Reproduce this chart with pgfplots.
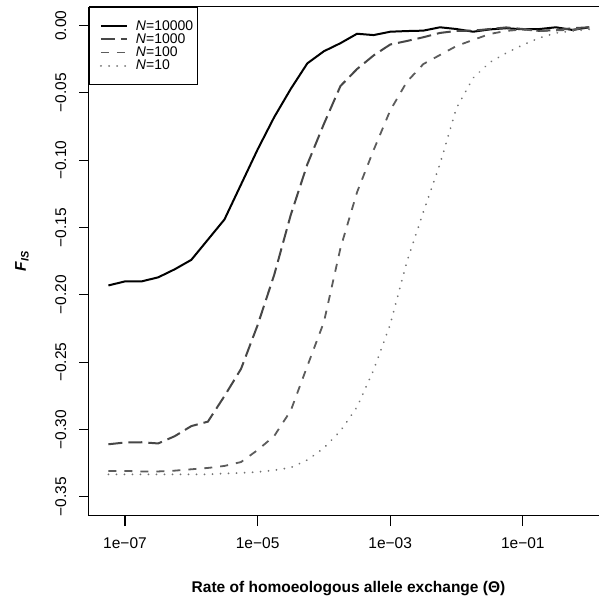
\documentclass[border=0pt]{standalone}
\usepackage{fontspec}
\setmainfont{Liberation Sans}
\usepackage{pgfplots}
\usepackage{pgfplotstable}
\pgfplotsset{compat=1.18}

\definecolor{cA}{gray}{0.0}
\definecolor{cB}{gray}{0.28}
\definecolor{cC}{gray}{0.36}
\definecolor{cD}{gray}{0.45}

% F_IS against theta, four population sizes
\pgfplotstableread{
x          n10000   n1000    n100     n10
5.623e-8   -0.193   -0.3110  -0.3308  -0.3334
1e-7       -0.190   -0.3097  -0.3308  -0.3334
1.778e-7   -0.190   -0.3095  -0.3312  -0.3334
3.162e-7   -0.187   -0.3104  -0.3312  -0.3334
5.623e-7   -0.181   -0.3050  -0.3306  -0.3334
1e-6       -0.174   -0.2975  -0.3296  -0.3334
1.778e-6   -0.159   -0.2942  -0.3286  -0.3334
3.162e-6   -0.144   -0.2752  -0.3271  -0.3327
5.623e-6   -0.118   -0.2550  -0.3242  -0.3323
1e-5       -0.092   -0.2225  -0.3153  -0.3316
1.778e-5   -0.068   -0.1852  -0.3049  -0.3303
3.162e-5   -0.047   -0.1406  -0.2860  -0.3283
5.623e-5   -0.028   -0.1030  -0.2529  -0.3227
1e-4       -0.019   -0.0730  -0.2202  -0.3138
1.778e-4   -0.013   -0.0448  -0.1652  -0.3011
3.162e-4   -0.006   -0.0322  -0.1237  -0.2833
5.623e-4   -0.007   -0.0221  -0.0924  -0.2558
1e-3       -0.0045  -0.0140  -0.0630  -0.2220
1.778e-3   -0.0040  -0.0114  -0.0418  -0.1756
3.162e-3   -0.0037  -0.0086  -0.0285  -0.1384
5.623e-3   -0.0012  -0.0054  -0.0218  -0.1028
1e-2       -0.0025  -0.0039  -0.0151  -0.0611
1.778e-2   -0.0045  -0.0037  -0.0106  -0.0389
3.162e-2   -0.0028  -0.0025  -0.0062  -0.0273
5.623e-2   -0.0019  -0.0013  -0.0039  -0.0203
0.1        -0.0027  -0.0025  -0.0028  -0.0143
0.1778     -0.0025  -0.0039  -0.0040  -0.0091
0.3162     -0.0012  -0.0032  -0.0035  -0.0054
0.5623     -0.0032  -0.0019  -0.0030  -0.0039
1          -0.0012  -0.0012  -0.0012  -0.0027
}\fis

\begin{document}
\begin{tikzpicture}
\begin{axis}[
    name=ax,
    at={(0,0)}, anchor=south west,
    scale only axis,
    width=510pt, height=509.3pt,
    xmode=log,
    xmin=2.864e-8, xmax=1.409,
    ymin=-0.3643, ymax=0.0141,
    axis lines*=left,
    axis line style={black, line width=1pt},
    every tick/.style={black, line width=1pt},
    tick align=outside,
    major tick length=10pt,
    minor tick num=0,
    log basis x=10,
    xtick={1e-7,1e-5,1e-3,1e-1},
    xticklabels={1e−07,1e−05,1e−03,1e−01},
    xminorticks=false,
    ytick={0,-0.05,-0.1,-0.15,-0.2,-0.25,-0.3,-0.35},
    yticklabels={0.00,−0.05,−0.10,−0.15,−0.20,−0.25,−0.30,−0.35},
    tick label style={font=\fontsize{15.5}{18}\selectfont},
    xticklabel style={anchor=base, yshift=-22pt},
    yticklabel style={rotate=90, anchor=base, yshift=13pt},
    xlabel={\textbf{Rate of homoeologous allele exchange (Θ)}},
    every axis x label/.style={at={(rel axis cs:0.5,0)}, anchor=base, yshift=-76pt, xshift=4.5pt,
        font=\fontsize{15.5}{18}\selectfont},
    ylabel={\textbf{\textit{F}}\textsubscript{\textbf{\textit{IS}}}},
    every axis y label/.style={at={(rel axis cs:0,0.5)}, rotate=90, anchor=center, yshift=67pt,
        font=\fontsize{15.5}{18}\selectfont},
    legend cell align=left,
    legend style={at={(rel axis cs:0,1)}, anchor=north west, draw=black, line width=0.8pt,
        font=\fontsize{14}{15.5}\selectfont, inner xsep=2pt, inner ysep=11.3pt, row sep=-2pt,
        column sep=6pt},
    legend image code/.code={\path (0pt,0pt); \draw[#1] (8.6pt,0pt) -- (34.6pt,0pt);},
]
\addplot[cA, line width=2pt] table[x=x, y=n10000] {\fis};
\addlegendentry{\textit{N}=10000}
\addplot[cB, line width=2pt, dash pattern=on 14pt off 6pt] table[x=x, y=n1000] {\fis};
\addlegendentry{\textit{N}=1000}
\addplot[cC, line width=1.8pt, dash pattern=on 8pt off 8pt] table[x=x, y=n100] {\fis};
\addlegendentry{\textit{N}=100}
\addplot[cD, line width=2pt, line cap=round, dash pattern=on 0.01pt off 8pt] table[x=x, y=n10] {\fis};
\addlegendentry{\textit{N}=10}
\end{axis}
\draw[black, line width=1pt] (ax.north west) -- (ax.north east);
\pgfresetboundingbox
\useasboundingbox ([shift={(-89pt,-85pt)}]ax.south west) rectangle ++(599pt,601pt);
\end{tikzpicture}
\end{document}
